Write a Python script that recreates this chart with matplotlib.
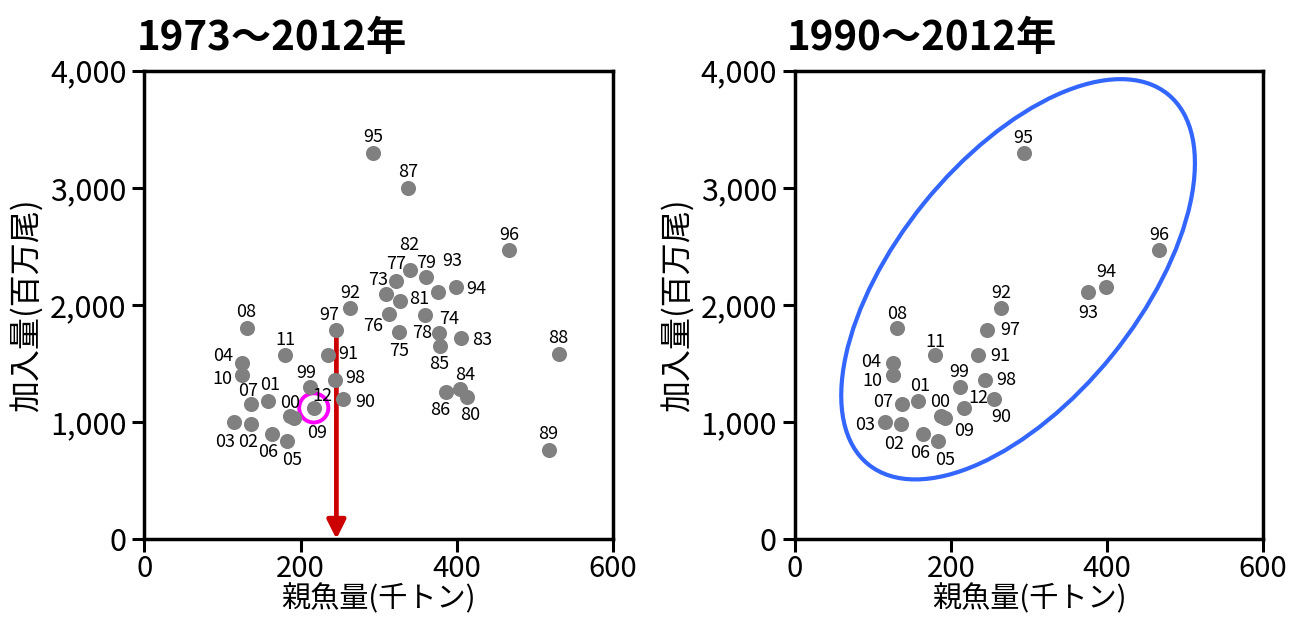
import matplotlib

matplotlib.use("Agg")
import matplotlib.pyplot as plt
from matplotlib.patches import Ellipse
from matplotlib.ticker import FuncFormatter, MultipleLocator

plt.rcParams["font.family"] = ["Noto Sans CJK JP", "DejaVu Sans"]

# year labels (2-digit) and values
years = ["73", "74", "75", "76", "77", "78", "79", "80", "81", "82",
         "83", "84", "85", "86", "87", "88", "89", "90", "91", "92",
         "93", "94", "95", "96", "97", "98", "99", "00", "01", "02",
         "03", "04", "05", "06", "07", "08", "09", "10", "11", "12"]
spawners = [310, 378, 326, 314, 323, 359, 361, 413, 327, 341,
            406, 404, 379, 386, 338, 531, 518, 255, 235, 264,
            376, 399, 293, 467, 246, 244, 212, 187, 158, 136,
            115, 125, 183, 164, 137, 131, 192, 125, 180, 217]
recruits = [2090, 1760, 1765, 1920, 2205, 1910, 2240, 1210, 2035, 2300,
            1720, 1285, 1645, 1255, 3000, 1580, 760, 1195, 1568, 1975,
            2110, 2155, 3295, 2470, 1785, 1360, 1295, 1055, 1175, 980,
            1000, 1505, 840, 900, 1150, 1805, 1030, 1400, 1570, 1120]

titles = ["1973～2012年", "1990～2012年"]
first_year_right = "90"

# label offsets in pixels (dx right, dy down) from the dot
offs_left = {
    "95": (0, -16), "87": (0, -16), "96": (0, -15), "82": (-1, -25),
    "77": (0, -17), "79": (0, -14), "93": (14, -31), "94": (21, 2),
    "73": (-8, -14), "81": (20, -2), "76": (-16, 12), "75": (0, 19),
    "78": (-2, 18), "74": (10, -14), "85": (-1, 18), "83": (21, 2),
    "88": (0, -16), "92": (0, -15), "97": (-7, -15), "91": (20, -1),
    "98": (20, -2), "90": (22, 3), "99": (-4, -14), "12": (9, -12),
    "86": (-5, 18), "84": (6, -14), "80": (4, 18), "89": (0, -16),
    "08": (0, -16), "11": (0, -15), "04": (-19, -7), "10": (-20, 4),
    "07": (-3, -13), "01": (2, -16), "00": (0, -13), "09": (23, 15),
    "03": (-9, 20), "02": (-2, 18), "06": (-4, 18), "05": (5, 19),
}
offs_right = {
    "95": (0, -15), "96": (0, -15), "94": (0, -15), "93": (0, 21),
    "92": (0, -15), "08": (0, -14), "97": (23, 0), "11": (0, -13),
    "91": (22, 1), "04": (-21, -1), "10": (-20, 6), "99": (-1, -15),
    "98": (21, 0), "01": (2, -15), "07": (-19, -2), "00": (-1, -14),
    "12": (14, -10), "90": (7, 18), "03": (-20, 3), "09": (19, 13),
    "02": (-7, 20), "06": (-3, 19), "05": (7, 19),
}

fig = plt.figure(figsize=(12.89, 6.19), dpi=100)
ax_l = fig.add_axes([0.1121, 0.1292, 0.3631, 0.7566])
ax_r = fig.add_axes([0.6168, 0.1292, 0.3631, 0.7566])

start = years.index(first_year_right)
sets = [
    (ax_l, years, spawners, recruits, offs_left),
    (ax_r, years[start:], spawners[start:], recruits[start:], offs_right),
]

for i, (ax, yrs, xs, ys, offs) in enumerate(sets):
    ax.scatter(xs, ys, s=118, color="#808080", linewidths=0, zorder=3)
    for yr, x, y in zip(yrs, xs, ys):
        dx, dy = offs[yr]
        ax.annotate(yr, (x, y), xytext=(dx * 0.72, -dy * 0.72),
                    textcoords="offset points", ha="center", va="center",
                    fontsize=13, zorder=4)

    ax.set_xlim(0, 600)
    ax.set_ylim(0, 4000)
    ax.xaxis.set_major_locator(MultipleLocator(200))
    ax.yaxis.set_major_locator(MultipleLocator(1000))
    ax.yaxis.set_major_formatter(FuncFormatter(lambda v, p: f"{v:,.0f}"))
    ax.tick_params(direction="out", length=9, width=2.2, labelsize=22, pad=4)
    ax.tick_params(axis="x", labelsize=21, pad=2)
    for sp in ax.spines.values():
        sp.set_linewidth(2.5)
    ax.set_xlabel("親魚量(千トン)", fontsize=21, labelpad=0)
    ax.set_ylabel("加入量(百万尾)", fontsize=23, labelpad=5)
    ax.text(-0.017, 1.044, titles[i], transform=ax.transAxes,
            fontsize=29, fontweight="bold", ha="left", va="baseline")

# left: arrow down from the 1997 point, circle around 2012
i97 = years.index("97")
ax_l.annotate("", xy=(spawners[i97], 0), xytext=(spawners[i97], recruits[i97]),
              arrowprops=dict(arrowstyle="-|>", color="#CC0000", lw=3.4,
                              mutation_scale=28, shrinkA=0, shrinkB=0),
              zorder=2, annotation_clip=False)
i12 = years.index("12")
ax_l.scatter([spawners[i12]], [recruits[i12]], s=441, facecolors="none",
             edgecolors="#FF00FF", linewidths=2.8, zorder=2.8)

# right: ellipse round the 1990-2012 cloud
ax_r.add_patch(Ellipse((0.4765, 0.5546), 1.017, 0.517, angle=51,
                       transform=ax_r.transAxes, fill=False,
                       edgecolor="#3366FF", lw=3, zorder=2))

fig.savefig("out.png", dpi=100)
